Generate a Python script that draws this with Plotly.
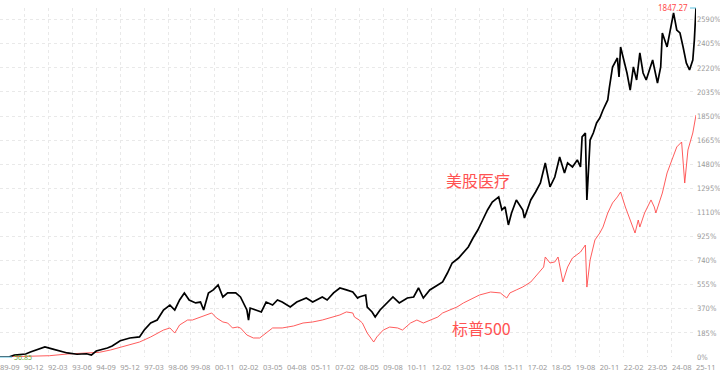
import plotly.graph_objects as go

# ---- data (cumulative return, %) ----
hc_dates = ["1989-09","1990-03","1990-06","1991-01","1991-04","1991-08","1992-01","1992-06","1992-10","1993-03",
            "1993-09","1994-03","1994-06","1994-09","1995-04","1995-07","1995-12","1996-06","1996-12","1997-03",
            "1997-07","1997-11","1998-03","1998-07","1998-10","1999-01","1999-04","1999-07","1999-11","2000-02",
            "2000-04","2000-07","2000-10","2001-01","2001-04","2001-07","2001-12","2002-03","2002-07","2002-08",
            "2002-09","2003-01","2003-04","2003-07","2003-11","2004-02","2004-05","2004-10","2005-02","2005-08",
            "2005-12","2006-06","2006-09","2007-01","2007-05","2007-09","2008-01","2008-04","2008-05","2008-09",
            "2008-10","2009-01","2009-03","2009-06","2009-10","2010-02","2010-06","2010-11","2011-03","2011-06",
            "2011-09","2012-01","2012-06","2012-09","2012-12","2013-03","2013-07","2013-10","2014-01","2014-04",
            "2014-07","2014-10","2015-01","2015-04","2015-08","2015-10","2015-12","2016-02","2016-04","2016-07",
            "2016-11","2016-12","2017-04","2017-07","2017-10","2018-01","2018-04","2018-07","2018-10","2019-01",
            "2019-03","2019-06","2019-09","2019-11","2019-12","2020-02","2020-03","2020-05","2020-07","2020-09",
            "2020-11","2021-01","2021-04","2021-05","2021-07","2021-10","2021-11","2021-12","2022-04","2022-06",
            "2022-08","2022-10","2022-12","2023-02","2023-04","2023-08","2023-11","2024-01","2024-02","2024-05",
            "2024-07","2024-09","2024-11","2025-01","2025-03","2025-05","2025-07","2025-09","2025-10","2025-11"]
hc_values = [0,2,15,23,38,54,77,61,46,31,
             21,25,15,46,69,84,125,146,154,207,
             261,284,361,399,361,438,492,438,415,422,
             361,492,515,553,461,492,492,461,361,284,
             376,361,346,422,399,438,422,384,422,453,
             422,461,438,492,530,515,499,453,461,476,
             384,346,307,361,415,461,415,453,461,530,
             453,515,553,576,645,722,760,799,845,914,
             975,1052,1129,1190,1229,1129,1152,1014,1106,1206,
             1129,1067,1206,1267,1336,1490,1306,1382,1536,1413,
             1490,1459,1513,1459,1690,1720,1206,1666,1720,1797,
             1835,1897,1974,2066,2227,2296,2150,2381,2181,2050,
             2227,2127,2335,2181,2127,2281,2104,2227,2488,2381,
             2511,2642,2511,2488,2381,2258,2204,2281,2435,2680]

sp_dates = ["1989-09","1991-04","1992-04","1993-03","1994-02","1994-11","1995-06","1995-12","1996-06","1996-12",
            "1997-07","1997-11","1998-03","1998-07","1998-10","1999-01","1999-06","1999-09","2000-02","2000-06",
            "2000-09","2000-12","2001-04","2001-07","2001-10","2002-01","2002-03","2002-07","2002-11","2003-03",
            "2003-07","2003-11","2004-05","2004-12","2005-06","2005-12","2006-06","2007-01","2007-05","2007-09",
            "2008-01","2008-02","2008-05","2008-07","2008-10","2009-02","2009-04","2009-08","2009-12","2010-05",
            "2010-08","2011-01","2011-05","2011-09","2012-01","2012-06","2012-09","2013-02","2013-06","2013-10",
            "2014-02","2014-06","2014-08","2015-03","2015-09","2016-01","2016-03","2016-07","2016-11","2017-04",
            "2017-08","2017-12","2018-01","2018-04","2018-07","2018-09","2018-12","2019-03","2019-06","2019-11",
            "2020-02","2020-03","2020-05","2020-08","2020-11","2021-01","2021-04","2021-07","2021-10","2021-12",
            "2022-03","2022-06","2022-09","2022-11","2022-12","2023-03","2023-07","2023-09","2023-10","2024-02",
            "2024-05","2024-08","2024-11","2025-02","2025-04","2025-06","2025-09","2025-11"]
sp_values = [0,4,10,23,28,36,54,73,92,115,
             154,184,207,223,184,246,284,284,307,323,
             338,300,269,261,223,230,223,169,146,146,
             184,223,223,238,261,269,284,307,323,346,
             338,307,284,261,184,115,154,207,230,223,
             207,261,284,261,284,307,338,361,384,415,
             438,461,476,499,492,453,492,515,538,576,
             630,691,768,722,730,768,576,691,760,806,
             860,537,745,899,952,998,1106,1183,1229,1267,
             1152,1052,952,1052,998,1106,1206,1152,1106,1259,
             1413,1513,1613,1651,1336,1590,1720,1858]

x_tick_dates = ["1989-09","1990-12","1992-03","1993-06","1994-09","1995-12","1997-03","1998-06","1999-08","2000-11",
                "2002-02","2003-05","2004-08","2005-11","2007-02","2008-05","2009-08","2010-11","2012-02","2013-05",
                "2014-08","2015-11","2017-02","2018-05","2019-08","2020-11","2022-02","2023-05","2024-08","2025-11"]
x_tick_text = ["89-09","90-12","92-03","93-06","94-09","95-12","97-03","98-06","99-08","00-11",
               "02-02","03-05","04-08","05-11","07-02","08-05","09-08","10-11","12-02","13-05",
               "14-08","15-11","17-02","18-05","19-08","20-11","22-02","23-05","24-08","25-11"]
y_ticks = [0,185,370,555,740,925,1110,1295,1480,1665,1850,2035,2220,2405,2590]
y_tick_text = [f"{v}%" for v in y_ticks]

hc_name = "美股医疗"
sp_name = "标普500"
max_label = "1847.27"
min_label = "56.85"

fig = go.Figure()
fig.add_trace(go.Scatter(x=sp_dates, y=sp_values, mode="lines", name=sp_name,
                         line=dict(color="#ff4a4a", width=0.9)))
fig.add_trace(go.Scatter(x=hc_dates, y=hc_values, mode="lines", name=hc_name,
                         line=dict(color="#000000", width=1.7)))

lab_font = dict(family="Noto Sans CJK SC, Noto Sans, sans-serif", size=16, color="#ff5252")
fig.add_annotation(x="2014-07", y=1360, text=hc_name, showarrow=False, font=lab_font)
fig.add_annotation(x="2014-09", y=222, text=sp_name, showarrow=False, font=lab_font)
fig.add_annotation(x=hc_dates[-1], y=hc_values[-1], text=max_label, showarrow=True,
                   arrowhead=0, arrowwidth=1, arrowcolor="#5bc0de", ax=-6, ay=0,
                   xanchor="right", font=dict(size=8, color="#ff4a4a", family="Noto Sans"))
fig.add_annotation(x=hc_dates[0], y=hc_values[0], text=min_label, showarrow=True,
                   arrowhead=0, arrowwidth=1, arrowcolor="#5bc0de", ax=12, ay=0,
                   xanchor="left", font=dict(size=7, color="#66aa33", family="Noto Sans"))

fig.update_layout(
    width=720, height=376,
    margin=dict(l=0, r=24, t=8, b=19, autoexpand=False),
    paper_bgcolor="white", plot_bgcolor="white",
    showlegend=False,
    font=dict(family="Noto Sans, sans-serif", size=7, color="#999999"),
)
fig.update_xaxes(
    type="date", range=["1989-09-01", "2025-11-01"],
    tickvals=x_tick_dates, ticktext=x_tick_text,
    ticklabelposition="outside right", tickangle=0, ticklabelstandoff=4,
    showgrid=True, gridcolor="#e9e9e9", griddash="3px,3px", gridwidth=1,
    zeroline=False, showline=False, ticks="",
    tickfont=dict(size=7.5, color="#999999"),
)
fig.update_yaxes(
    side="right", range=[0, 2680],
    tickvals=y_ticks, ticktext=y_tick_text,
    showgrid=True, gridcolor="#e9e9e9", griddash="3px,3px", gridwidth=1,
    zeroline=False, showline=False, ticks="",
    tickfont=dict(size=7.5, color="#999999", family="Liberation Sans Narrow, DejaVu Sans Condensed, Noto Sans"),
)

fig.write_html("out.html", config={"displayModeBar": False},
               post_script="document.body.style.margin='0';document.body.style.overflow='hidden';")
